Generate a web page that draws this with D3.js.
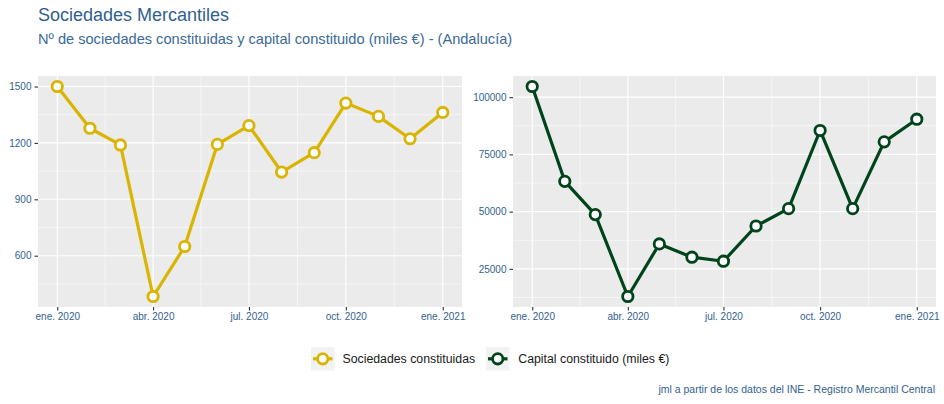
<!DOCTYPE html>
<html><head><meta charset="utf-8">
<script src="https://cdn.jsdelivr.net/npm/d3@7"></script>
<style>body{margin:0;background:#fff;} text{font-family:"Liberation Sans",Arial,sans-serif;}</style>
</head><body><svg id="c" width="944" height="404"></svg>
<script>
const months = ["2020-01-01","2020-02-01","2020-03-01","2020-04-01","2020-05-01","2020-06-01","2020-07-01","2020-08-01","2020-09-01","2020-10-01","2020-11-01","2020-12-01","2021-01-01"];
const sociedades = [1500,1278,1189,383,649,1192,1292,1045,1148,1412,1341,1222,1362];
const capital = [104660,63240,48700,12940,35890,30100,28350,43730,51300,85450,51300,80490,90370];
const xTickDates = ["2020-01-01","2020-04-01","2020-07-01","2020-10-01","2021-01-01"];
const xTickLabels = ["ene. 2020","abr. 2020","jul. 2020","oct. 2020","ene. 2021"];
const yTicksLeft = [600,900,1200,1500];
const yMinorLeft = [450,750,1050,1350];
const yTicksRight = [25000,50000,75000,100000];
const yMinorRight = [12500,37500,62500,87500];
const seriesNames = ["Sociedades constituidas","Capital constituido (miles €)"];
const colors = ["#d9b400","#00441b"];
const title = "Sociedades Mercantiles";
const subtitle = "Nº de sociedades constituidas y capital constituido (miles €) - (Andalucía)";
const caption = "jml a partir de los datos del INE - Registro Mercantil Central";

const parse = d3.utcParse("%Y-%m-%d");
const dates = months.map(parse);
const tickDates = xTickDates.map(parse);
const svg = d3.select("#c");
const blue = "#33618f";

svg.append("text").attr("x",38).attr("y",21).attr("fill","#2f5f8f").attr("font-size",18).text(title);
svg.append("text").attr("x",38).attr("y",43.5).attr("fill","#3a6a9a").attr("font-size",14.6).text(subtitle);

function panel(x0,x1,y0,y1,values,ticks,minor,color){
  const g = svg.append("g");
  const ext = d3.extent(dates), span = ext[1]-ext[0];
  const x = d3.scaleUtc().domain([new Date(+ext[0]-span*0.05), new Date(+ext[1]+span*0.05)]).range([x0,x1]);
  const ve = d3.extent(values), vs = ve[1]-ve[0];
  const y = d3.scaleLinear().domain([ve[0]-vs*0.05, ve[1]+vs*0.05]).range([y1,y0]);
  g.append("rect").attr("x",x0).attr("y",y0).attr("width",x1-x0).attr("height",y1-y0).attr("fill","#ebebeb");
  const xMinor = d3.pairs(tickDates).map(([a,b])=>new Date((+a + +b)/2));
  g.selectAll(null).data(minor).join("line").attr("x1",x0).attr("x2",x1).attr("y1",d=>y(d)).attr("y2",d=>y(d)).attr("stroke","#fff").attr("stroke-width",0.55);
  g.selectAll(null).data(xMinor).join("line").attr("y1",y0).attr("y2",y1).attr("x1",d=>x(d)).attr("x2",d=>x(d)).attr("stroke","#fff").attr("stroke-width",0.55);
  g.selectAll(null).data(ticks).join("line").attr("x1",x0).attr("x2",x1).attr("y1",d=>y(d)).attr("y2",d=>y(d)).attr("stroke","#fff").attr("stroke-width",1.1);
  g.selectAll(null).data(tickDates).join("line").attr("y1",y0).attr("y2",y1).attr("x1",d=>x(d)).attr("x2",d=>x(d)).attr("stroke","#fff").attr("stroke-width",1.1);
  const ya = svg.append("g").attr("transform",`translate(${x0},0)`).call(d3.axisLeft(y).tickValues(ticks).tickSize(3.5).tickPadding(3).tickFormat(d3.format("d")));
  const xa = svg.append("g").attr("transform",`translate(0,${y1})`).call(d3.axisBottom(x).tickValues(tickDates).tickSize(3.5).tickPadding(2.5).tickFormat((d,i)=>xTickLabels[i]));
  [ya,xa].forEach(a=>{a.select(".domain").remove();a.selectAll(".tick line").attr("stroke","#333").attr("stroke-width",1.1);
    a.selectAll("text").attr("fill",blue).attr("font-size",10).attr("font-family","'Liberation Sans',Arial,sans-serif");});
  const data = dates.map((d,i)=>({d,v:values[i]}));
  g.append("path").datum(data).attr("fill","none").attr("stroke",color).attr("stroke-width",3.2).attr("stroke-linejoin","round")
    .attr("d",d3.line().x(p=>x(p.d)).y(p=>y(p.v)));
  g.selectAll(null).data(data).join("circle").attr("cx",p=>x(p.d)).attr("cy",p=>y(p.v)).attr("r",5.2)
    .attr("fill","#fff").attr("stroke",color).attr("stroke-width",2.8);
}
panel(38,462,76,307,sociedades,yTicksLeft,yMinorLeft,colors[0]);
panel(513,936,76,307,capital,yTicksRight,yMinorRight,colors[1]);

const keyX = [311,486], textX = [342.5,518.3];
seriesNames.forEach((n,i)=>{
  const lg = svg.append("g");
  lg.append("rect").attr("x",keyX[i]).attr("y",347).attr("width",23.5).attr("height",23.5).attr("fill","#f2f2f2");
  lg.append("line").attr("x1",keyX[i]+2).attr("x2",keyX[i]+21.5).attr("y1",358.8).attr("y2",358.8).attr("stroke",colors[i]).attr("stroke-width",3.2);
  lg.append("circle").attr("cx",keyX[i]+11.75).attr("cy",358.8).attr("r",5.2).attr("fill","#fff").attr("stroke",colors[i]).attr("stroke-width",2.8);
  lg.append("text").attr("x",textX[i]).attr("y",363).attr("font-size",12.3).attr("fill","#1a1a1a").text(n);
});
svg.append("text").attr("x",935).attr("y",393).attr("text-anchor","end").attr("font-size",10.5).attr("fill",blue).text(caption);
</script></body></html>
